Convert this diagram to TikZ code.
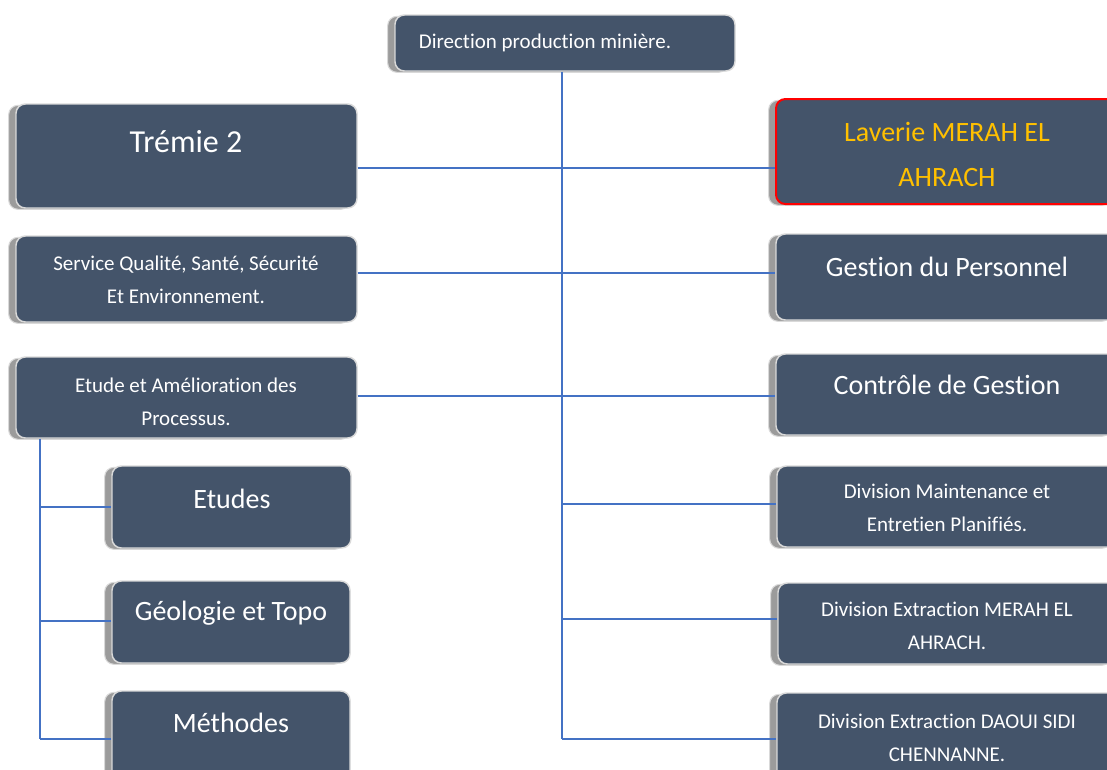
\documentclass[tikz,border=0pt]{standalone}
\usepackage{fontspec}
\setmainfont{Carlito}[Ligatures=NoCommon]
\usetikzlibrary{fit,shadows}
\definecolor{boxfill}{HTML}{44546A}
\definecolor{tabgray}{HTML}{9B9B9B}
\definecolor{rimgray}{HTML}{D9D9D9}
\definecolor{linkblue}{HTML}{4472C4}
\definecolor{goldtext}{HTML}{FFC000}
\definecolor{redrim}{HTML}{FF0000}
\begin{document}
\begin{tikzpicture}[x=0.75pt,y=-0.75pt,
  orgbox/.style={inner sep=0pt, rounded corners=7pt, fill=boxfill, draw=rimgray, line width=1.1pt,
    copy shadow={shadow xshift=-5.5pt, shadow yshift=-1pt, fill=tabgray, draw=rimgray, line width=0.8pt}},
  hotbox/.style={orgbox, draw=redrim, line width=1.5pt},
  smalltxt/.style={inner sep=0pt, text=white, align=center, font=\fontsize{15.75}{24.75}\selectfont},
  bigtxt/.style={inner sep=0pt, text=white, align=center, font=\fontsize{21}{33.75}\selectfont},
  hugetxt/.style={inner sep=0pt, text=white, align=center, font=\fontsize{24}{28}\selectfont},
  link/.style={draw=linkblue, line width=0.8pt}]
\useasboundingbox (0,0) rectangle (1107,769);
\fill[white] (0,0) rectangle (1107,769);
\clip (0,0) rectangle (1107,769);

% boxes
\node[orgbox, fit={(395,15) (735,71)}] (dir) {};
\node[orgbox, fit={(16,104) (357,208)}] (tremie) {};
\node[hotbox, fit={(776,99) (1118,204)}] (laverie) {};
\node[orgbox, fit={(16,236) (357,322)}] (service) {};
\node[orgbox, fit={(16,357) (357,438)}] (etude) {};
\node[orgbox, fit={(776,234) (1118,320)}] (gestion) {};
\node[orgbox, fit={(776,354) (1118,435)}] (controle) {};
\node[orgbox, fit={(777,466) (1118,547)}] (divmaint) {};
\node[orgbox, fit={(778,583) (1118,664)}] (divmerah) {};
\node[orgbox, fit={(777,693) (1118,800)}] (daoui) {};
\node[orgbox, fit={(112,466) (351,548)}] (etudes) {};
\node[orgbox, fit={(112,581) (350,663)}] (geologie) {};
\node[orgbox, fit={(112,691) (350,800)}] (methodes) {};

% labels
\node[smalltxt] (tdir) at (545,43) {Direction production minière.};
\node[hugetxt] (ttremie) at (186,142) {Trémie 2};
\node[bigtxt, text=goldtext] (tlaverie) at (947,154.5) {Laverie MERAH EL\\AHRACH};
\node[smalltxt] (tservice) at (186,280) {Service Qualité, Santé, Sécurité\\Et Environnement.};
\node[smalltxt] (tetude) at (186,401.5) {Etude et Amélioration des\\Processus.};
\node[bigtxt] (tgestion) at (947,267) {Gestion du Personnel};
\node[bigtxt] (tcontrole) at (947,385) {Contrôle de Gestion};
\node[smalltxt] (tdivmaint) at (947,508) {Division Maintenance et\\Entretien Planifiés.};
\node[smalltxt] (tdivmerah) at (947,626) {Division Extraction MERAH EL\\AHRACH.};
\node[smalltxt] (tdaoui) at (947,737.5) {Division Extraction DAOUI SIDI\\CHENNANNE.};
\node[bigtxt] (tetudes) at (232,499) {Etudes};
\node[bigtxt] (tgeologie) at (231,613) {Géologie et Topo};
\node[bigtxt] (tmethodes) at (231,723) {Méthodes};

% connector junctions
\coordinate (cbot) at (562,739);
\coordinate (lbot) at (40,739);

% central trunk and branches
\draw[link] (dir.south -| cbot) -- (cbot);
\draw[link] (tremie.east |- 0,168) -- (laverie.west |- 0,168);
\draw[link] (service.east |- 0,273) -- (gestion.west |- 0,273);
\draw[link] (etude.east |- 0,396) -- (controle.west |- 0,396);
\draw[link] (cbot |- 0,504) -- (divmaint.west |- 0,504);
\draw[link] (cbot |- 0,619) -- (divmerah.west |- 0,619);
\draw[link] (cbot) -- (daoui.west |- cbot);

% left sub-tree
\draw[link] (etude.south -| lbot) -- (lbot);
\draw[link] (lbot |- 0,507) -- (etudes.west |- 0,507);
\draw[link] (lbot |- 0,621) -- (geologie.west |- 0,621);
\draw[link] (lbot) -- (methodes.west |- lbot);
\end{tikzpicture}
\end{document}
